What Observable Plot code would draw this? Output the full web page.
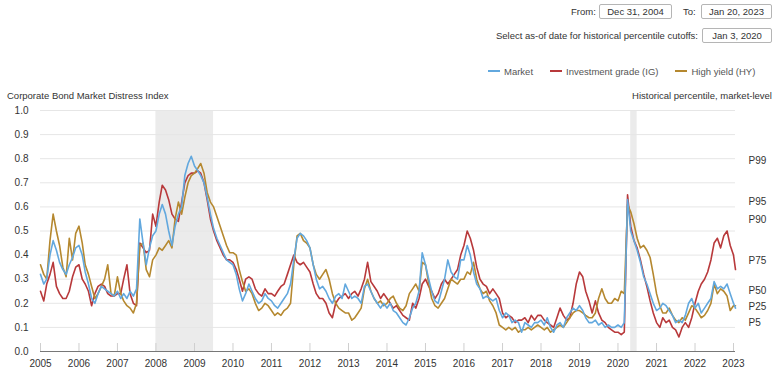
<!DOCTYPE html>
<html><head><meta charset="utf-8">
<script src="https://cdn.jsdelivr.net/npm/d3@7"></script>
<script src="https://cdn.jsdelivr.net/npm/@observablehq/plot@0.6"></script>
<style>
body{margin:0;background:#fff;font-family:"Liberation Sans",Arial,sans-serif;color:#333;}
#wrap{position:relative;width:779px;height:381px;overflow:hidden}
.t{position:absolute;white-space:nowrap;font-size:9.5px;line-height:12px;color:#333}
.box{position:absolute;border:1px solid #b5b5b5;border-radius:2px;font-size:9.5px;text-align:center;box-sizing:border-box;line-height:13px;height:15px;color:#333}
.sw{display:inline-block;width:12px;height:2px;vertical-align:middle;margin-right:4px;position:relative;top:-1px}
#chart{position:absolute;left:0;top:100px}
</style></head>
<body><div id="wrap">
<div class="t" style="left:571px;top:6px">From:</div>
<div class="box" style="left:599px;top:4px;width:73px">Dec 31, 2004</div>
<div class="t" style="left:683px;top:6px">To:</div>
<div class="box" style="left:701px;top:4px;width:71px">Jan 20, 2023</div>
<div class="t" style="right:81px;top:30px">Select as-of date for historical percentile cutoffs:</div>
<div class="box" style="left:702px;top:28px;width:70px">Jan 3, 2020</div>
<div id="legend" class="t" style="left:488px;top:66px;color:#555"></div>
<div class="t" style="left:7px;top:90px">Corporate Bond Market Distress Index</div>
<div class="t" style="right:7px;top:90px">Historical percentile, market-level</div>
<div id="chart"></div>
</div>
<script>
// Monthly readings (first of month), Jan 2005 .. Jan 2023, plus final point Jan 20, 2023
const startMonth = "2005-01-01";
const lastDate = "2023-01-20";
const market = [
 .32,.28,.30,.40,.46,.42,.37,.34,.32,.36,.39,.43,
 .44,.40,.33,.28,.22,.20,.24,.27,.26,.25,.24,.23,
 .25,.22,.24,.22,.25,.23,.26,.55,.45,.36,.43,.48,
 .50,.57,.61,.57,.50,.44,.52,.57,.60,.73,.78,.81,
 .77,.75,.73,.70,.64,.57,.51,.47,.44,.41,.38,.37,
 .36,.32,.26,.21,.24,.28,.25,.22,.20,.21,.24,.22,
 .21,.19,.18,.20,.22,.24,.28,.38,.47,.49,.48,.46,
 .43,.36,.30,.26,.27,.25,.22,.20,.23,.24,.22,.28,
 .25,.22,.23,.22,.20,.27,.28,.25,.22,.20,.18,.20,
 .18,.20,.17,.16,.14,.12,.11,.14,.18,.20,.25,.41,
 .36,.30,.25,.21,.20,.25,.30,.38,.33,.31,.30,.38,
 .38,.44,.40,.33,.28,.26,.22,.23,.22,.21,.22,.17,
 .14,.16,.15,.12,.13,.12,.08,.12,.11,.10,.12,.12,
 .13,.11,.14,.10,.08,.11,.12,.10,.14,.16,.18,.17,
 .19,.17,.14,.12,.12,.13,.11,.12,.10,.11,.10,.10,
 .11,.10,.12,.63,.50,.46,.42,.37,.31,.28,.24,.20,
 .17,.18,.20,.19,.17,.15,.12,.13,.12,.15,.20,.22,
 .18,.20,.16,.18,.20,.22,.29,.26,.27,.26,.28,.24,
 .20,.18
];
const investmentGrade = [
 .25,.21,.28,.32,.37,.27,.24,.22,.22,.25,.31,.35,
 .36,.30,.28,.25,.19,.24,.27,.28,.27,.24,.23,.23,
 .24,.24,.30,.36,.24,.20,.19,.45,.43,.41,.42,.57,
 .52,.62,.69,.67,.63,.57,.55,.54,.62,.70,.73,.74,
 .74,.75,.74,.70,.63,.55,.50,.46,.43,.40,.38,.38,
 .37,.34,.30,.25,.30,.31,.30,.26,.24,.23,.26,.24,
 .24,.23,.25,.27,.28,.32,.36,.40,.37,.36,.37,.35,
 .33,.28,.24,.22,.22,.20,.16,.14,.20,.22,.23,.24,
 .22,.24,.25,.23,.26,.30,.37,.29,.27,.25,.22,.24,
 .22,.20,.18,.19,.17,.15,.14,.13,.20,.18,.22,.28,
 .30,.27,.25,.22,.24,.28,.30,.28,.30,.32,.34,.40,
 .44,.50,.47,.42,.35,.30,.28,.27,.24,.26,.24,.22,
 .16,.14,.15,.14,.12,.13,.13,.14,.12,.15,.13,.15,
 .15,.13,.12,.11,.10,.14,.18,.15,.13,.14,.20,.28,
 .33,.31,.25,.21,.16,.21,.16,.13,.12,.10,.09,.08,
 .08,.07,.08,.65,.52,.46,.43,.38,.32,.27,.21,.16,
 .12,.10,.14,.12,.13,.10,.09,.06,.10,.12,.10,.14,
 .20,.25,.28,.30,.33,.38,.45,.47,.43,.48,.50,.44,
 .40,.34
];
const highYield = [
 .36,.32,.30,.46,.57,.50,.44,.35,.31,.47,.38,.49,
 .52,.45,.36,.32,.27,.22,.24,.27,.30,.36,.24,.23,
 .31,.24,.21,.19,.18,.16,.20,.44,.45,.34,.31,.38,
 .40,.43,.42,.44,.46,.43,.55,.62,.57,.64,.70,.73,
 .74,.76,.78,.74,.66,.62,.60,.56,.52,.48,.44,.41,
 .41,.40,.34,.29,.25,.26,.24,.20,.17,.18,.20,.19,
 .17,.15,.16,.15,.17,.18,.20,.36,.48,.49,.46,.45,
 .43,.36,.32,.30,.32,.34,.30,.24,.20,.18,.17,.16,
 .16,.13,.14,.16,.18,.26,.30,.25,.22,.20,.21,.19,
 .20,.22,.23,.20,.18,.17,.19,.24,.26,.28,.25,.37,
 .36,.28,.22,.19,.18,.20,.22,.26,.30,.29,.28,.30,
 .30,.33,.32,.37,.30,.26,.24,.25,.21,.19,.16,.11,
 .10,.09,.10,.09,.10,.08,.09,.09,.10,.09,.10,.11,
 .10,.09,.10,.08,.09,.10,.11,.10,.12,.14,.16,.17,
 .17,.16,.15,.14,.14,.16,.22,.26,.22,.20,.20,.22,
 .21,.25,.24,.61,.58,.53,.47,.43,.44,.42,.39,.32,
 .24,.19,.16,.16,.18,.15,.13,.12,.14,.13,.16,.19,
 .18,.16,.14,.15,.17,.20,.28,.24,.26,.25,.23,.17,
 .19,.19
];
const seriesNames = ["Market", "Investment grade (IG)", "High yield (HY)"];
const seriesColors = ["#62a8de", "#b8393b", "#b5882f"];
const yTicks = [0,0.1,0.2,0.3,0.4,0.5,0.6,0.7,0.8,0.9,1.0];
const yearTicks = ["2005","2006","2007","2008","2009","2010","2011","2012","2013","2014","2015","2016","2017","2018","2019","2020","2021","2022","2023"];
const recessions = [{start:"2008-01-01", end:"2009-07-01"}, {start:"2020-05-01", end:"2020-07-01"}];
const percentileLabels = ["P99","P95","P90","P75","P50","P25","P5"];
const percentileValues = [0.79,0.62,0.545,0.378,0.25,0.186,0.118];

const start = new Date(startMonth + "T00:00:00Z");
const dates = d3.utcMonth.range(start, d3.utcMonth.offset(start, market.length - 1));
dates.push(new Date(lastDate + "T00:00:00Z"));
function rows(vals){ return vals.map((v,i)=>({date: dates[i], value: v})); }
const series = [market, investmentGrade, highYield].map(rows);
const years = yearTicks.map(y => new Date(y + "-01-01T00:00:00Z"));
const rec = recessions.map(r => ({x1: new Date(r.start+"T00:00:00Z"), x2: new Date(r.end+"T00:00:00Z")}));
const pct = percentileLabels.map((l,i)=>({label:l, value: percentileValues[i]}));
const endDate = new Date(lastDate + "T00:00:00Z");

// legend
const lg = document.getElementById("legend");
lg.innerHTML = seriesNames.map((n,i)=>`<span style="margin-right:${i<2?17:0}px"><span class="sw" style="background:${seriesColors[i]}"></span>${n}</span>`).join("");

const W = 779, H = 281;
const chart = Plot.plot({
  width: W, height: H,
  marginLeft: 40, marginRight: 44, marginTop: 10, marginBottom: 30,
  style: {fontSize: "10px", fontFamily: '"Liberation Sans", Arial, sans-serif', color: "#333", background: "transparent", overflow: "visible"},
  x: {type: "utc", domain: [start, endDate], ticks: years, tickFormat: d3.utcFormat("%Y"), tickSize: 0, tickPadding: 8, label: null},
  y: {domain: [0, 1], ticks: yTicks, tickFormat: d3.format(".1f"), tickSize: 0, tickPadding: 12, label: null},
  marks: [
    Plot.rect(rec, {x1: "x1", x2: "x2", y1: 0, y2: 1, fill: "#ebebeb"}),
    Plot.ruleY(yTicks.filter(d => d > 0), {stroke: "#e6e6e6", strokeWidth: 1}),
    Plot.ruleX(years, {x: d => d, insetTop: 233, stroke: "#cfcfcf"}),
    Plot.line(series[1], {x: "date", y: "value", stroke: seriesColors[1], strokeWidth: 1.6}),
    Plot.line(series[2], {x: "date", y: "value", stroke: seriesColors[2], strokeWidth: 1.6}),
    Plot.line(series[0], {x: "date", y: "value", stroke: seriesColors[0], strokeWidth: 1.6}),
    Plot.ruleY([0], {stroke: "#777", strokeWidth: 1}),
    Plot.text(pct, {x: () => endDate, y: "value", text: "label", textAnchor: "start", dx: 13, fill: "#333", fontSize: 10})
  ]
});
document.getElementById("chart").appendChild(chart);
</script>
</body></html>
